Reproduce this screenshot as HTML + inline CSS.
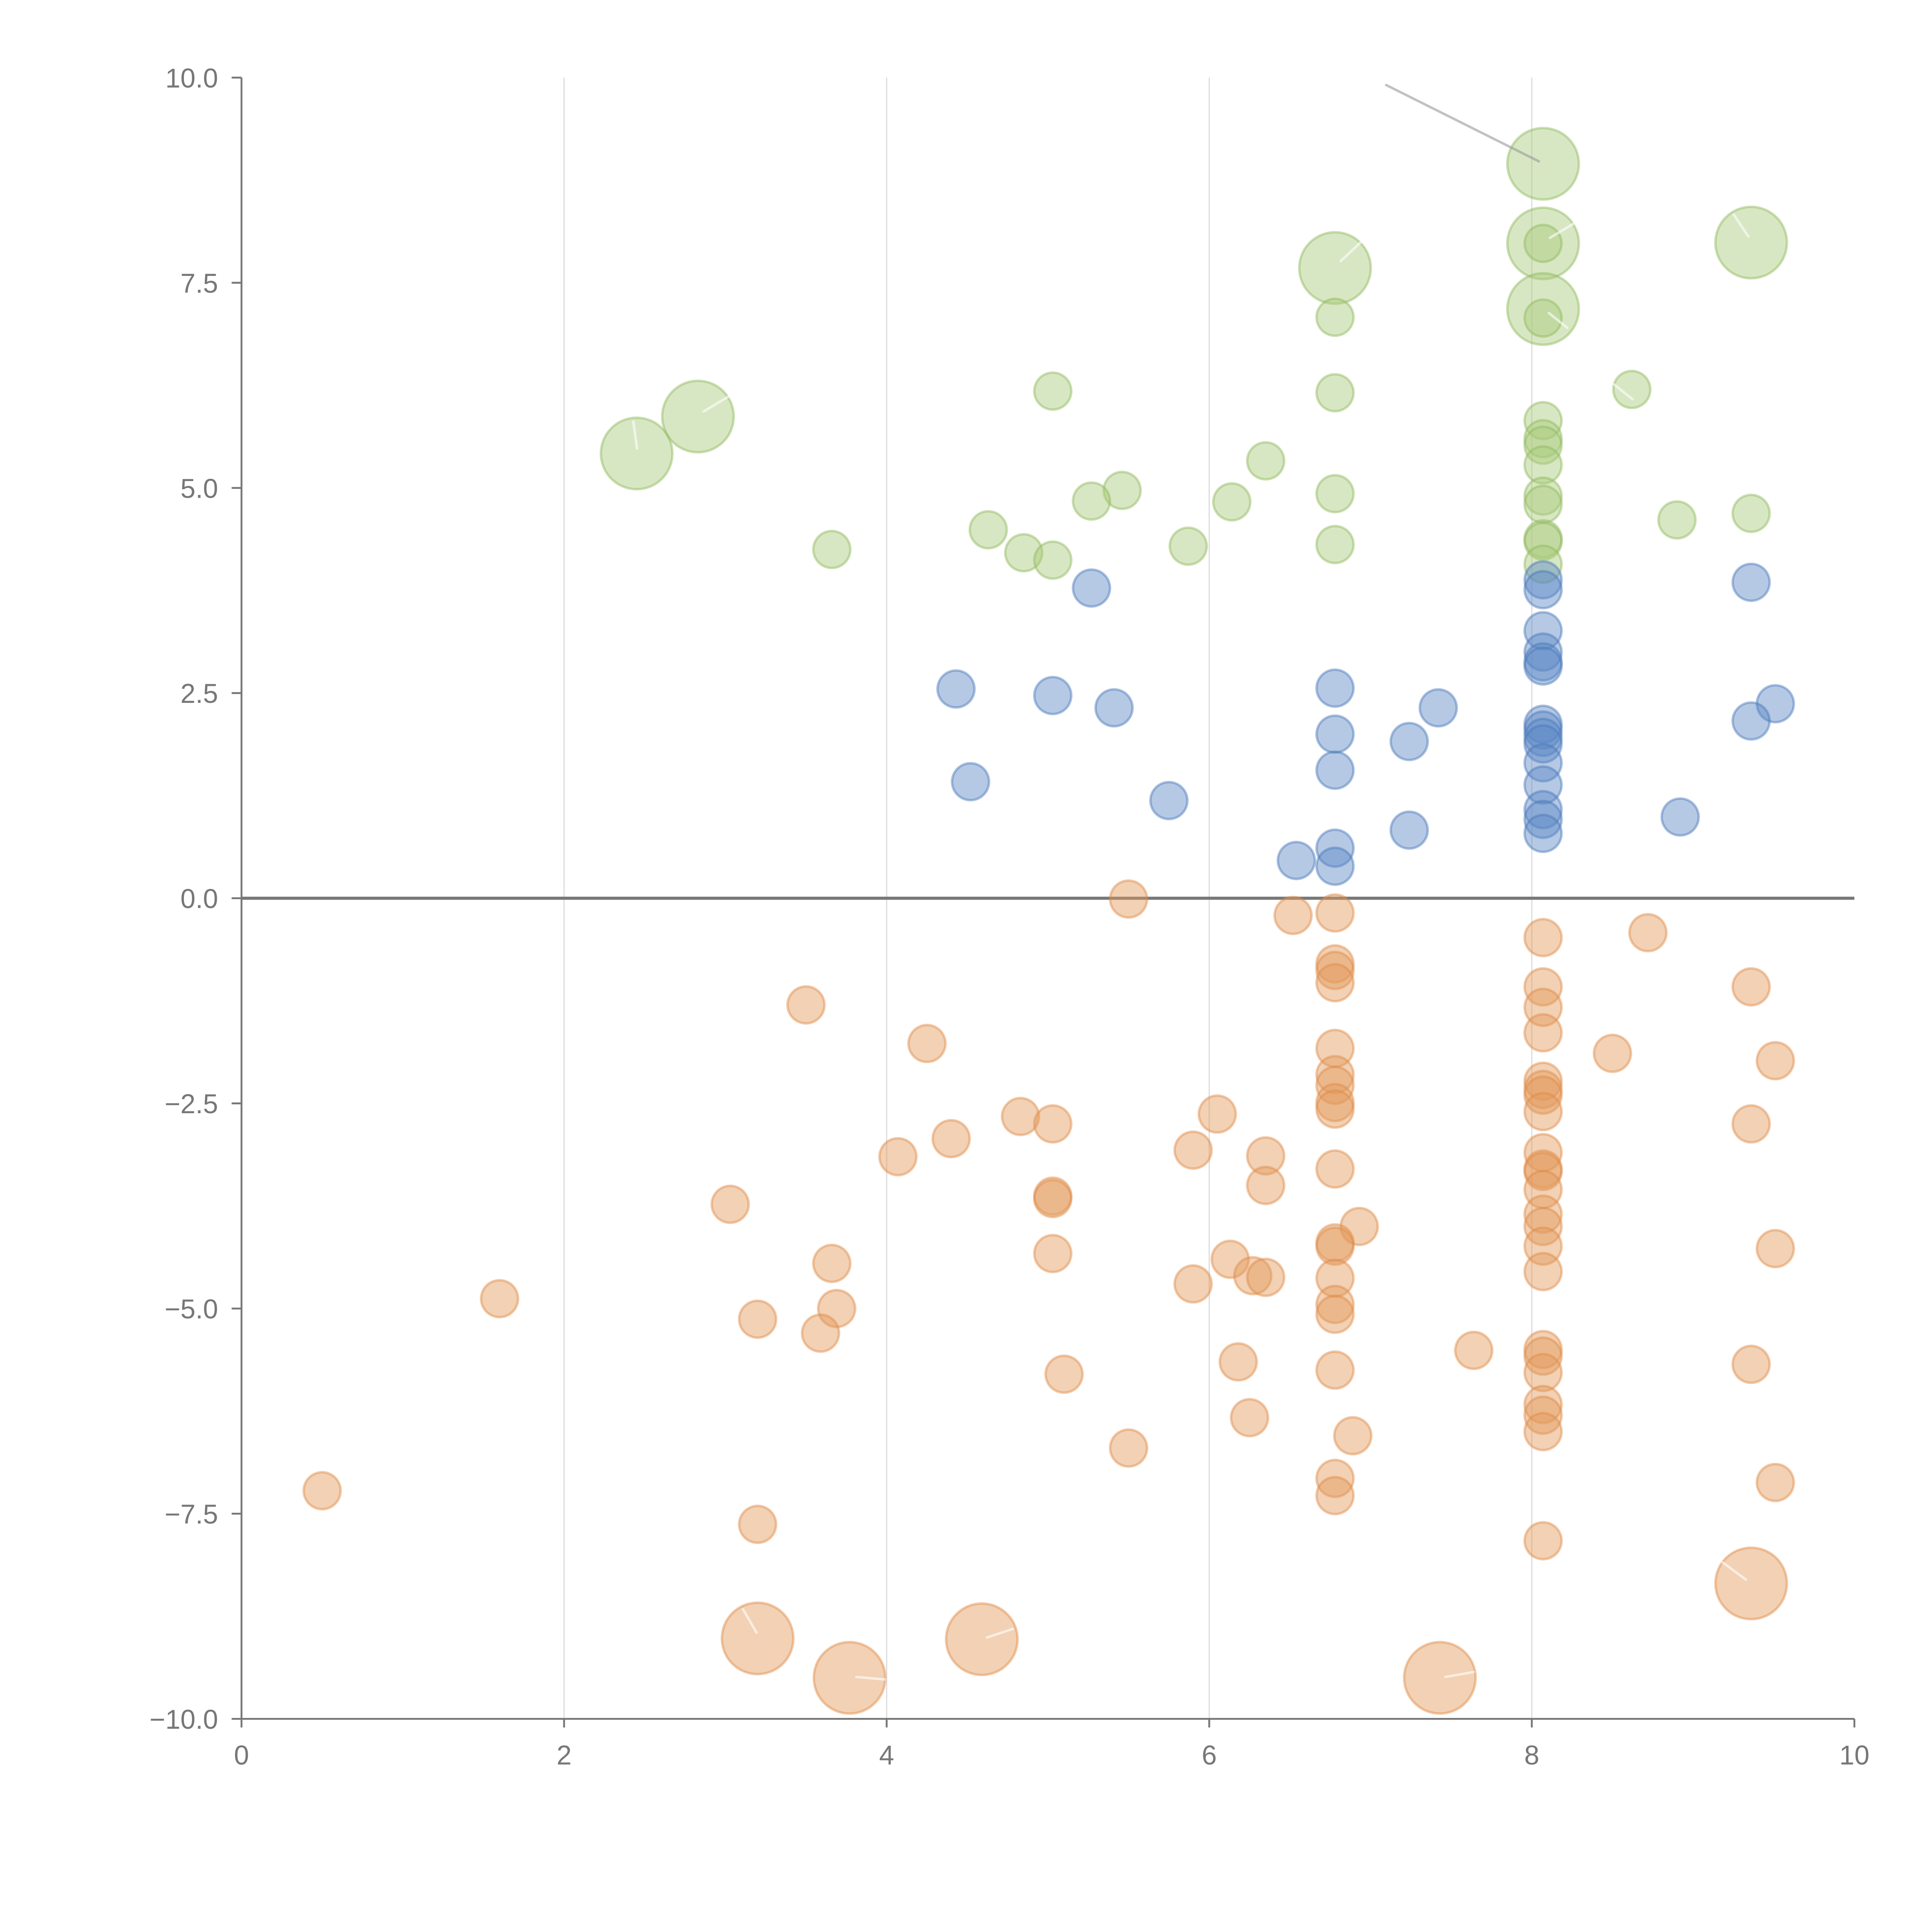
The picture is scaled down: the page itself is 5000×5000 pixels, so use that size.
<!DOCTYPE html>
<html><head><meta charset="utf-8"><style>
html,body{margin:0;padding:0;background:#fff}
svg{display:block}
text{font-family:"Liberation Sans",sans-serif;fill:#777;font-size:22px}
</style></head><body>
<svg id="chart" width="5000" height="5000" viewBox="0 0 1568 1568" xmlns="http://www.w3.org/2000/svg">
<g id="grid"></g>
<g id="axes"></g>
<g id="marks"></g>
</svg>
<script>
const xTicks=[0,2,4,6,8,10];
const yTicks=[-10,-7.5,-5,-2.5,0,2.5,5,7.5,10];
const greenBigX=[8.07,8.07,8.07,6.78,9.36,2.45,2.83];
const greenBigY=[8.95,7.98,7.18,7.68,7.99,5.42,5.87];
const greenX=[8.07,8.07,6.78,6.78,5.03,8.62,8.07,8.07,8.07,8.07,6.35,5.46,5.27,6.78,6.14,8.07,8.07,8.9,9.36,8.07,8.07,6.78,5.87,4.63,4.85,5.03,3.66,8.07];
const greenY=[7.98,7.07,7.08,6.16,6.18,6.2,5.82,5.6,5.52,5.28,5.33,4.97,4.84,4.93,4.83,4.9,4.8,4.61,4.69,4.38,4.35,4.31,4.29,4.49,4.21,4.12,4.25,4.07];
const blueX=[5.27,8.07,8.07,9.36,8.07,8.07,8.07,8.07,4.43,5.03,5.41,6.78,7.42,9.51,9.36,8.07,8.07,8.07,8.07,6.78,7.24,8.07,4.52,6.78,8.07,5.75,8.07,8.07,8.92,7.24,8.07,6.78,6.54,6.78];
const blueY=[3.78,3.88,3.76,3.85,3.26,3.0,2.88,2.83,2.55,2.47,2.32,2.56,2.32,2.37,2.16,2.12,2.05,1.96,1.88,2.0,1.91,1.65,1.42,1.56,1.38,1.19,1.08,0.96,0.99,0.83,0.79,0.61,0.46,0.39];
const orangeX=[5.5,6.52,6.78,8.07,8.72,6.78,6.78,6.78,8.07,9.36,3.5,8.07,8.07,4.25,6.78,8.5,9.51,6.78,8.07,6.78,8.07,8.07,6.78,6.78,8.07,6.05,4.83,5.03,9.36,4.4,5.9,4.07,6.35,8.07,8.07,8.07,6.78,8.07,6.35,5.03,5.03,3.03,8.07,8.07,6.93,6.78,6.78,8.07,9.51,5.03,6.13,3.66,8.07,6.27,6.35,6.78,5.9,1.6,6.78,3.69,6.78,3.2,3.59,7.64,8.07,8.07,6.18,9.36,6.78,8.07,5.1,8.07,8.07,6.25,8.07,6.89,5.5,6.78,6.78,9.51,0.5,3.2,8.07];
const orangeY=[-0.01,-0.21,-0.18,-0.48,-0.42,-0.8,-0.88,-1.03,-1.08,-1.08,-1.3,-1.33,-1.64,-1.77,-1.83,-1.89,-1.98,-2.15,-2.23,-2.28,-2.33,-2.4,-2.49,-2.57,-2.6,-2.63,-2.66,-2.75,-2.75,-2.93,-3.07,-3.15,-3.14,-3.1,-3.3,-3.33,-3.3,-3.55,-3.5,-3.63,-3.66,-3.73,-3.85,-4.0,-4.0,-4.2,-4.24,-4.24,-4.27,-4.33,-4.4,-4.45,-4.55,-4.6,-4.62,-4.63,-4.7,-4.88,-4.95,-5.0,-5.07,-5.13,-5.3,-5.51,-5.5,-5.58,-5.65,-5.68,-5.75,-5.78,-5.8,-6.17,-6.3,-6.33,-6.5,-6.55,-6.7,-7.07,-7.28,-7.12,-7.22,-7.63,-7.83];
const orangeBigX=[3.2,4.59,3.77,7.43,9.36];
const orangeBigY=[-9.02,-9.03,-9.5,-9.5,-8.35];

const NS="http://www.w3.org/2000/svg";
const X0=196,X1=1505,Y0=1395,Y1=63;
const sx=v=>X0+(v-0)/10*(X1-X0);
const sy=v=>Y0-(v+10)/20*(Y0-Y1);
function mk(tag,attrs,parent){const e=document.createElementNS(NS,tag);for(const k in attrs)e.setAttribute(k,attrs[k]);parent.appendChild(e);return e;}
const grid=document.getElementById('grid'),axes=document.getElementById('axes'),marks=document.getElementById('marks');
xTicks.forEach(t=>{
  if(t>0&&t<10){const g=mk('line',{x1:sx(t),x2:sx(t),y1:Y1,y2:Y0,stroke:'#ddd','stroke-width':1},grid);
  
  }
  mk('line',{x1:sx(t),x2:sx(t),y1:Y0,y2:Y0+7,stroke:'#777','stroke-width':1.5},axes);
  const tx=mk('text',{x:sx(t),y:Y0+37,'text-anchor':'middle'},axes);tx.textContent=t;
  
  
});
yTicks.forEach(t=>{
  mk('line',{x1:X0-8,x2:X0,y1:sy(t),y2:sy(t),stroke:'#777','stroke-width':1.5},axes);
  const tx=mk('text',{x:X0-19,y:sy(t)+8,'text-anchor':'end'},axes);tx.textContent=t.toFixed(1).replace('-','\u2212');
  
  
});
const ya=mk('line',{x1:X0,x2:X0,y1:Y1,y2:Y0,stroke:'#777','stroke-width':1.5},axes);


const xa=mk('line',{x1:X0,x2:X1,y1:Y0,y2:Y0,stroke:'#777','stroke-width':1.5},axes);


const zl=mk('line',{x1:X0,x2:X1,y1:sy(0),y2:sy(0),stroke:'#777','stroke-width':2.5},axes);



function draw(xs,ys,r,fill,stroke,name){
  xs.forEach((x,i)=>{
    const c=mk('circle',{cx:sx(x),cy:sy(ys[i]),r:r,fill:fill,'fill-opacity':0.45,stroke:stroke,'stroke-opacity':0.45,'stroke-width':2},marks);
    
    
  });
}
draw(greenBigX,greenBigY,29,'#a9c97a','#8fb85a','green-large-bubble');
draw(orangeBigX,orangeBigY,29,'#e39a5c','#df8a45','orange-large-bubble');
draw(greenX,greenY,15,'#a9c97a','#8fb85a','green-bubble');
draw(blueX,blueY,15,'#5b88c6','#4a78b8','blue-bubble');
draw(orangeX,orangeY,15,'#e39a5c','#df8a45','orange-bubble');
const whiteLines=[[1088,212,1105,196],[1258,193,1278,181],[1257,254,1272,266],[1419,192,1407,174],[517,364,514,342],[571,334,591,322],[1310,312,1325,324],[614,1325,603,1306],[801,1329,822,1322],[695,1361,718,1363],[1173,1361,1196,1357],[1417,1282,1398,1268]];
whiteLines.forEach(l=>{
  const w=mk('line',{x1:l[0],y1:l[1],x2:l[2],y2:l[3],stroke:'#fff','stroke-opacity':0.6,'stroke-width':2,'stroke-linecap':'round'},marks);
  
  
});
const ll=mk('line',{x1:1125,y1:69,x2:1249,y2:131,stroke:'#999','stroke-opacity':0.6,'stroke-width':2,'stroke-linecap':'round'},marks);


</script>
</body></html>
